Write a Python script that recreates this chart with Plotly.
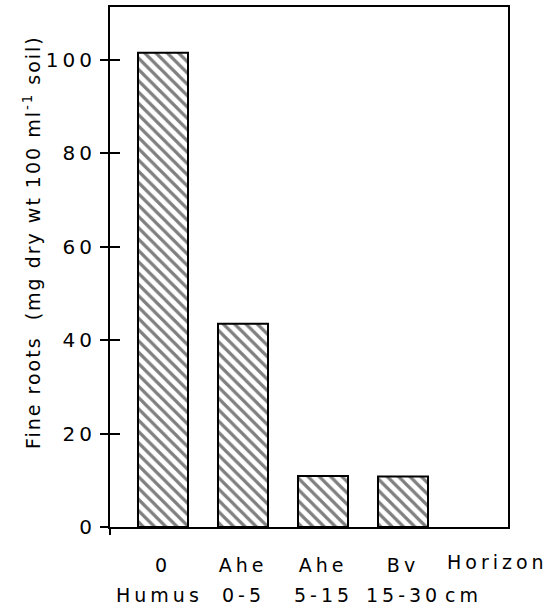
import plotly.graph_objects as go

horizons = ["0", "Ahe", "Ahe", "Bv"]
depths = ["Humus", "0-5", "5-15", "15-30"]
fine_roots = [101.5, 43.5, 10.9, 10.8]
y_ticks = [0, 20, 40, 60, 80, 100]

x_pos = list(range(len(horizons)))
FONT = "DejaVu Sans, Verdana, sans-serif"
FS = 19

W, H = 554, 610
L, R, T, B = 110, 508, 7, 527
PW, PH = R - L, B - T

def px(xp):
    return (xp - L) / PW

def py(yp):
    return (B - yp) / PH

fig = go.Figure()
fig.add_trace(go.Bar(
    x=x_pos, y=fine_roots, width=0.625,
    marker=dict(color="white", line=dict(color="black", width=2),
                pattern=dict(shape="\\", fgcolor="black", bgcolor="white",
                             size=8, solidity=0.4)),
    showlegend=False, hoverinfo="skip",
))
fig.add_trace(go.Scatter(x=[None], y=[None], yaxis="y2", showlegend=False,
                         hoverinfo="skip"))

fig.update_layout(
    width=W, height=H,
    margin=dict(l=L, r=W - R, t=T, b=H - B),
    paper_bgcolor="white", plot_bgcolor="white",
    font=dict(family=FONT, size=FS, color="black"),
    xaxis=dict(range=[-0.6625, 4.3125], tickvals=x_pos, ticktext=horizons,
               showline=True, linecolor="black", linewidth=2, mirror=True,
               ticks="", showgrid=False, zeroline=False, automargin=False,
               tickfont=dict(size=FS), ticklabelstandoff=20),
    yaxis=dict(range=[0, 111.3], tickvals=y_ticks,
               showline=True, linecolor="black", linewidth=2, mirror=True,
               ticks="outside", ticklen=8, tickwidth=2, tickcolor="black",
               showgrid=False, zeroline=False, tickfont=dict(size=20),
               automargin=False, ticklabelstandoff=0),
    yaxis2=dict(range=[0, 111.3], tickvals=y_ticks, overlaying="y",
                ticks="inside", ticklen=10, tickwidth=2, tickcolor="black",
                showticklabels=False, showgrid=False, zeroline=False,
                showline=False),
)

annotations = []
for xi, d in zip(x_pos, depths):
    annotations.append(dict(x=xi, y=py(595), xref="x", yref="paper",
                            text=d, showarrow=False, font=dict(size=FS),
                            yanchor="middle", xshift=-4 if d == "Humus" else 0))
annotations.append(dict(x=px(497), y=py(562), xref="paper", yref="paper",
                        text="Horizon", showarrow=False, xanchor="center",
                        yanchor="middle", font=dict(size=FS)))
annotations.append(dict(x=px(463), y=py(595), xref="paper", yref="paper",
                        text="cm", showarrow=False, xanchor="center",
                        yanchor="middle", font=dict(size=FS)))
annotations.append(dict(x=px(32), y=py(242), xref="paper", yref="paper",
                        text="Fine roots  (mg dry wt 100 ml<sup>-1</sup> soil)",
                        textangle=-90, showarrow=False, xanchor="center",
                        yanchor="middle", font=dict(size=FS)))
fig.update_layout(annotations=annotations)

fig.add_shape(type="line", xref="paper", yref="paper", x0=0, x1=0,
              y0=-8 / PH, y1=0, line=dict(color="black", width=2))
fig.add_shape(type="line", xref="paper", yref="paper", x0=-8 / PW, x1=0,
              y0=0, y1=0, line=dict(color="black", width=2))

post = """
document.body.style.margin='0';
var s=document.createElement('style');
s.textContent='.ytick text{letter-spacing:4px}'
 + '.xtick text{letter-spacing:4px}'
 + '.annotation text.annotation-text{letter-spacing:4px}'
 + '.annotation:last-of-type text.annotation-text{letter-spacing:2px}';
document.head.appendChild(s);
"""
fig.write_html("out.html", post_script=post,
               config={"displayModeBar": False, "staticPlot": True})
